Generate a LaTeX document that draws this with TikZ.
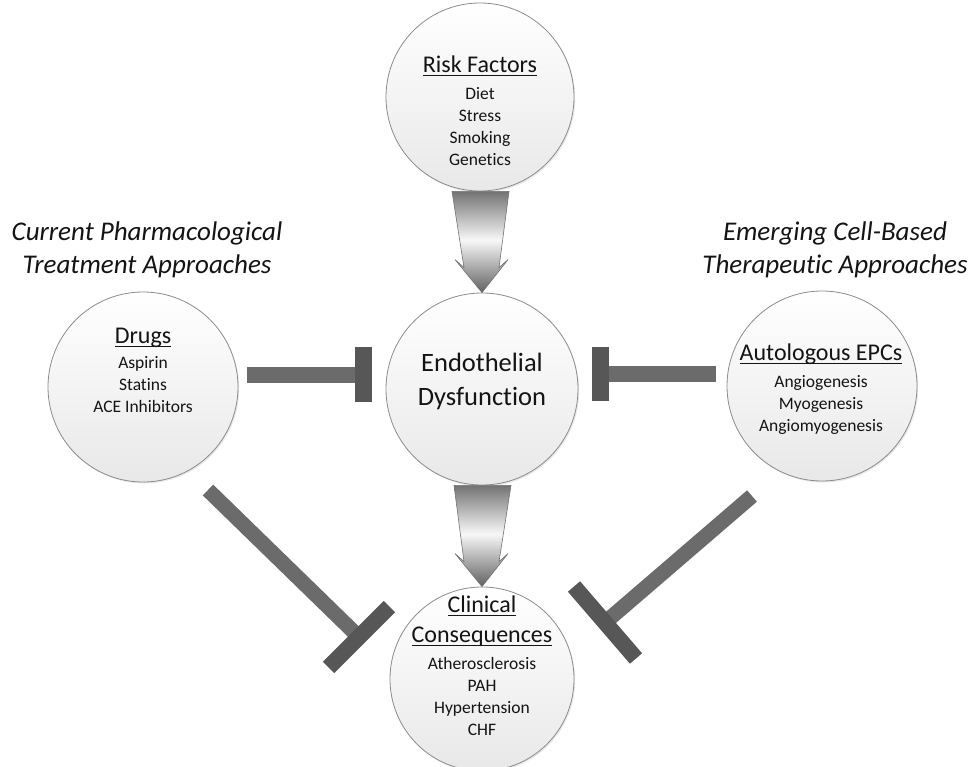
\documentclass[tikz,border=0pt]{standalone}
\usepackage{fontspec}
\setmainfont{Carlito}[Ligatures=NoCommon]
\usetikzlibrary{shadows,calc}
\definecolor{shaftgray}{HTML}{6B6B6B}
\definecolor{bargray}{HTML}{575757}
\pgfdeclareverticalshading{arrsh}{100bp}{color(0bp)=(black!62); color(25bp)=(black!62); color(51bp)=(black!3); color(75bp)=(black!55); color(100bp)=(black!55)}
\newcommand{\titlef}{\fontsize{24}{26}\selectfont}
\newcommand{\itemf}{\fontsize{17.5}{22}\selectfont}
\newcommand{\ulin}[1]{\setbox0=\hbox{#1}\rlap{\rule[-3pt]{\wd0}{0.8pt}}\box0}
\tikzset{
  ball/.style={circle, minimum size=190pt, inner sep=0pt, draw=black!45, line width=0.8pt,
    top color=white, bottom color=black!9,
    drop shadow={opacity=0.18, shadow xshift=1.2pt, shadow yshift=-1.5pt}},
  txt/.style={align=center, inner sep=0pt, anchor=north, font=\itemf, text=black!92},
  blockarrow/.style={draw=black!55, line width=0.6pt, shading=arrsh},
  shaft/.style={draw=shaftgray, line width=16pt},
  tbar/.style={draw=bargray, line width=17pt}
}
\newcommand{\blockarr}[2]{%
  \path[blockarrow] let \p1=(#1), \p2=(#2) in
    (\x1-28pt,\y1) -- (\x1+29pt,\y1) -- (\x2+17pt,\y2+25pt) -- (\x2+26pt,\y2+33pt)
    -- (\x2,\y2) -- (\x2-27pt,\y2+33pt) -- (\x2-18pt,\y2+25pt) -- cycle;}
\begin{document}
\begin{tikzpicture}[x=1pt,y=-1pt]
\fill[white] (0,0) rectangle (969,767);
\useasboundingbox (0,0) rectangle (969,767);

% circles
\node[ball, minimum size=188pt] (risk) at (480,97) {};
\node[ball, minimum size=192pt] (endo) at (482,389) {};
\node[ball] (drugs) at (143,387) {};
\node[ball] (epc) at (822,386) {};
\node[ball, minimum size=184pt] (clin) at (482,679) {};

% texts
\node[txt] (risktxt) at (480,56) {{\titlef\ulin{Risk Factors}}\\[5pt] Diet\\ Stress\\ Smoking\\ Genetics};
\node[txt, font=\fontsize{26.5}{34}\selectfont] (endotxt) at (482,353) {Endothelial\\ Dysfunction};
\node[txt] (drugstxt) at (143,328) {{\titlef\ulin{Drugs}}\\[3pt] Aspirin\\ Statins\\ ACE Inhibitors};
\node[txt] (epctxt) at (821,344) {{\titlef\ulin{Autologous EPCs}}\\[5pt] Angiogenesis\\ Myogenesis\\ Angiomyogenesis};
\node[txt] (clintxt) at (482,596) {{\titlef\ulin{Clinical}}\\[8pt] {\titlef\ulin{Consequences}}\\[5pt] Atherosclerosis\\ PAH\\ Hypertension\\ CHF};

% side headings
\node[txt, font=\fontsize{27}{33}\selectfont\itshape] (lefthead) at (147,222) {Current Pharmacological\\ Treatment Approaches};
\node[txt, font=\fontsize{27}{33}\selectfont\itshape] (righthead) at (835,222) {Emerging Cell-Based\\ Therapeutic Approaches};

% block arrows
\blockarr{risk.south}{endo.north}
\blockarr{endo.south}{clin.north}

% inhibition bars
\coordinate (h1a) at (247,375);
\coordinate (h1b) at (364,375);
\coordinate (h1t) at (363.5,347);
\coordinate (h1u) at (363.5,402);
\draw[shaft] (h1a) -- (h1b);
\draw[tbar] (h1t) -- (h1u);

\coordinate (h2a) at (716,374);
\coordinate (h2b) at (600,374);
\coordinate (h2t) at (600.5,347);
\coordinate (h2u) at (600.5,401);
\draw[shaft] (h2a) -- (h2b);
\draw[tbar] (h2t) -- (h2u);

\coordinate (d1a) at (208,490);
\coordinate (d1b) at (359,637);
\coordinate (d1t) at (328.6,667.4);
\coordinate (d1u) at (389.4,606.6);
\draw[shaft, line width=15pt] (d1a) -- (d1b);
\draw[tbar, line width=16pt] (d1t) -- (d1u);

\coordinate (d2a) at (752,496);
\coordinate (d2b) at (605,622.5);
\coordinate (d2t) at (574,586.5);
\coordinate (d2u) at (636,658.5);
\draw[shaft, line width=15pt] (d2a) -- (d2b);
\draw[tbar, line width=16pt] (d2t) -- (d2u);
\end{tikzpicture}
\end{document}
